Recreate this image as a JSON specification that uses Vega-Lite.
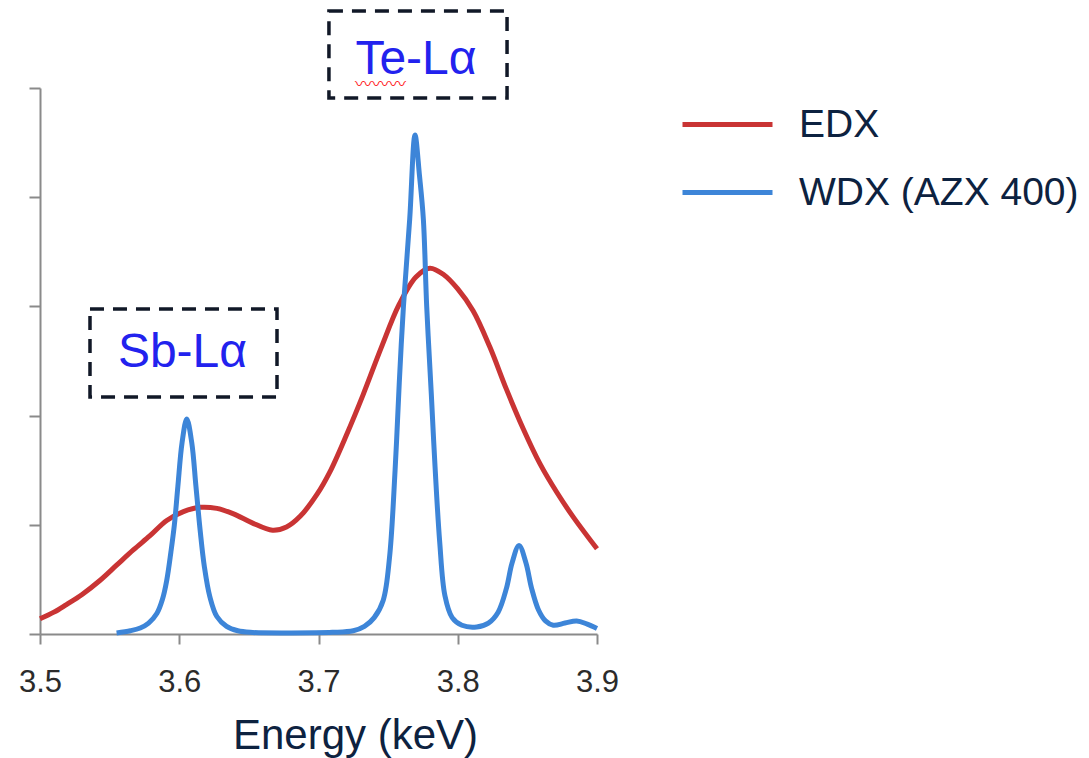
{
  "$schema": "https://vega.github.io/schema/vega-lite/v6.json",
  "width": 557,
  "height": 546,
  "autosize": {"type": "none"},
  "padding": {"left": 40, "top": 88, "right": 492, "bottom": 124},
  "background": "white",
  "config": {"view": {"stroke": null}, "axis": {"grid": false}},
  "datasets": {
    "spectra": [
      {"series": "EDX", "energy": 3.500, "value": 0.14},
      {"series": "EDX", "energy": 3.510, "value": 0.20},
      {"series": "EDX", "energy": 3.519, "value": 0.27},
      {"series": "EDX", "energy": 3.530, "value": 0.36},
      {"series": "EDX", "energy": 3.543, "value": 0.49},
      {"series": "EDX", "energy": 3.555, "value": 0.63},
      {"series": "EDX", "energy": 3.567, "value": 0.77},
      {"series": "EDX", "energy": 3.579, "value": 0.90},
      {"series": "EDX", "energy": 3.591, "value": 1.04},
      {"series": "EDX", "energy": 3.603, "value": 1.12},
      {"series": "EDX", "energy": 3.615, "value": 1.16},
      {"series": "EDX", "energy": 3.627, "value": 1.15},
      {"series": "EDX", "energy": 3.639, "value": 1.10},
      {"series": "EDX", "energy": 3.652, "value": 1.02},
      {"series": "EDX", "energy": 3.667, "value": 0.95},
      {"series": "EDX", "energy": 3.677, "value": 0.98},
      {"series": "EDX", "energy": 3.687, "value": 1.08},
      {"series": "EDX", "energy": 3.699, "value": 1.28},
      {"series": "EDX", "energy": 3.708, "value": 1.48},
      {"series": "EDX", "energy": 3.720, "value": 1.82},
      {"series": "EDX", "energy": 3.732, "value": 2.19},
      {"series": "EDX", "energy": 3.745, "value": 2.62},
      {"series": "EDX", "energy": 3.758, "value": 3.02},
      {"series": "EDX", "energy": 3.770, "value": 3.27},
      {"series": "EDX", "energy": 3.780, "value": 3.35},
      {"series": "EDX", "energy": 3.790, "value": 3.29},
      {"series": "EDX", "energy": 3.800, "value": 3.16},
      {"series": "EDX", "energy": 3.811, "value": 2.96},
      {"series": "EDX", "energy": 3.823, "value": 2.63},
      {"series": "EDX", "energy": 3.835, "value": 2.24},
      {"series": "EDX", "energy": 3.847, "value": 1.88},
      {"series": "EDX", "energy": 3.859, "value": 1.56},
      {"series": "EDX", "energy": 3.871, "value": 1.30},
      {"series": "EDX", "energy": 3.883, "value": 1.07},
      {"series": "EDX", "energy": 3.900, "value": 0.78},
      {"series": "WDX (AZX 400)", "energy": 3.555, "value": 0.01},
      {"series": "WDX (AZX 400)", "energy": 3.565, "value": 0.03},
      {"series": "WDX (AZX 400)", "energy": 3.572, "value": 0.055},
      {"series": "WDX (AZX 400)", "energy": 3.578, "value": 0.10},
      {"series": "WDX (AZX 400)", "energy": 3.584, "value": 0.19},
      {"series": "WDX (AZX 400)", "energy": 3.588, "value": 0.32},
      {"series": "WDX (AZX 400)", "energy": 3.591, "value": 0.49},
      {"series": "WDX (AZX 400)", "energy": 3.594, "value": 0.75},
      {"series": "WDX (AZX 400)", "energy": 3.5965, "value": 1.00},
      {"series": "WDX (AZX 400)", "energy": 3.599, "value": 1.35},
      {"series": "WDX (AZX 400)", "energy": 3.602, "value": 1.75},
      {"series": "WDX (AZX 400)", "energy": 3.6054, "value": 1.97},
      {"series": "WDX (AZX 400)", "energy": 3.609, "value": 1.75},
      {"series": "WDX (AZX 400)", "energy": 3.612, "value": 1.35},
      {"series": "WDX (AZX 400)", "energy": 3.615, "value": 0.95},
      {"series": "WDX (AZX 400)", "energy": 3.618, "value": 0.62},
      {"series": "WDX (AZX 400)", "energy": 3.622, "value": 0.34},
      {"series": "WDX (AZX 400)", "energy": 3.627, "value": 0.16},
      {"series": "WDX (AZX 400)", "energy": 3.634, "value": 0.07},
      {"series": "WDX (AZX 400)", "energy": 3.642, "value": 0.03},
      {"series": "WDX (AZX 400)", "energy": 3.651, "value": 0.015},
      {"series": "WDX (AZX 400)", "energy": 3.680, "value": 0.01},
      {"series": "WDX (AZX 400)", "energy": 3.710, "value": 0.015},
      {"series": "WDX (AZX 400)", "energy": 3.725, "value": 0.03},
      {"series": "WDX (AZX 400)", "energy": 3.733, "value": 0.07},
      {"series": "WDX (AZX 400)", "energy": 3.740, "value": 0.15},
      {"series": "WDX (AZX 400)", "energy": 3.7465, "value": 0.31},
      {"series": "WDX (AZX 400)", "energy": 3.751, "value": 0.70},
      {"series": "WDX (AZX 400)", "energy": 3.755, "value": 1.50},
      {"series": "WDX (AZX 400)", "energy": 3.758, "value": 2.30},
      {"series": "WDX (AZX 400)", "energy": 3.761, "value": 3.00},
      {"series": "WDX (AZX 400)", "energy": 3.7655, "value": 3.80},
      {"series": "WDX (AZX 400)", "energy": 3.7693, "value": 4.57},
      {"series": "WDX (AZX 400)", "energy": 3.7725, "value": 4.20},
      {"series": "WDX (AZX 400)", "energy": 3.7753, "value": 3.80},
      {"series": "WDX (AZX 400)", "energy": 3.7777, "value": 3.00},
      {"series": "WDX (AZX 400)", "energy": 3.781, "value": 2.20},
      {"series": "WDX (AZX 400)", "energy": 3.7837, "value": 1.53},
      {"series": "WDX (AZX 400)", "energy": 3.787, "value": 0.85},
      {"series": "WDX (AZX 400)", "energy": 3.7908, "value": 0.35},
      {"series": "WDX (AZX 400)", "energy": 3.796, "value": 0.15},
      {"series": "WDX (AZX 400)", "energy": 3.803, "value": 0.08},
      {"series": "WDX (AZX 400)", "energy": 3.8136, "value": 0.065},
      {"series": "WDX (AZX 400)", "energy": 3.822, "value": 0.10},
      {"series": "WDX (AZX 400)", "energy": 3.829, "value": 0.20},
      {"series": "WDX (AZX 400)", "energy": 3.835, "value": 0.42},
      {"series": "WDX (AZX 400)", "energy": 3.839, "value": 0.65},
      {"series": "WDX (AZX 400)", "energy": 3.844, "value": 0.81},
      {"series": "WDX (AZX 400)", "energy": 3.849, "value": 0.65},
      {"series": "WDX (AZX 400)", "energy": 3.853, "value": 0.42},
      {"series": "WDX (AZX 400)", "energy": 3.858, "value": 0.22},
      {"series": "WDX (AZX 400)", "energy": 3.863, "value": 0.12},
      {"series": "WDX (AZX 400)", "energy": 3.8686, "value": 0.08},
      {"series": "WDX (AZX 400)", "energy": 3.877, "value": 0.10},
      {"series": "WDX (AZX 400)", "energy": 3.8854, "value": 0.12},
      {"series": "WDX (AZX 400)", "energy": 3.893, "value": 0.09},
      {"series": "WDX (AZX 400)", "energy": 3.900, "value": 0.05}
    ],
    "boxes": [
      {"label": "Sb-Lα", "energy": 3.5359, "energy2": 3.6702, "value": 2.170, "value2": 2.976},
      {"label": "Te-Lα", "energy": 3.7075, "energy2": 3.8354, "value": 4.908, "value2": 5.705}
    ],
    "labels": [
      {"label": "Sb-Lα", "energy": 3.6023, "value": 2.448},
      {"label": "Te-Lα", "energy": 3.770, "value": 5.128}
    ],
    "squiggle": [
      {"mark": "〰〰〰", "energy": 3.7445, "value": 5.03}
    ]
  },
  "layer": [
    {
      "data": {"name": "spectra"},
      "mark": {"type": "line", "strokeWidth": 5, "interpolate": "catmull-rom"},
      "encoding": {
        "x": {
          "field": "energy", "type": "quantitative",
          "scale": {"domain": [3.5, 3.9], "nice": false, "zero": false},
          "axis": {
            "title": "Energy (keV)",
            "values": [3.5, 3.6, 3.7, 3.8, 3.9],
            "format": ".1f",
            "labelFont": "Liberation Sans", "labelFontSize": 31, "labelColor": "#2b2b2b",
            "labelBaseline": "alphabetic", "labelPadding": 47,
            "labelFlush": false, "labelOverlap": false, "labelBound": false,
            "tickSize": 10, "tickColor": "#8a8a8a", "tickWidth": 2,
            "domainColor": "#8a8a8a", "domainWidth": 2,
            "titleFont": "Liberation Sans", "titleFontSize": 42, "titleFontWeight": "normal",
            "titleColor": "#0d2240", "titleX": 315, "titleY": 114, "titleBaseline": "alphabetic"
          }
        },
        "y": {
          "field": "value", "type": "quantitative",
          "scale": {"domain": [0, 5], "nice": false, "zero": false},
          "axis": {
            "title": null, "values": [0, 1, 2, 3, 4, 5], "labels": false,
            "tickSize": 11, "tickColor": "#8a8a8a", "tickWidth": 2,
            "domainColor": "#8a8a8a", "domainWidth": 2
          }
        },
        "color": {
          "field": "series", "type": "nominal",
          "scale": {"domain": ["EDX", "WDX (AZX 400)"], "range": ["#c93434", "#3d85d8"]},
          "legend": {
            "orient": "none", "legendX": 640, "legendY": -11, "title": null,
            "symbolType": "stroke", "symbolSize": 8100, "symbolStrokeWidth": 5,
            "labelFont": "Liberation Sans", "labelFontSize": 39, "labelColor": "#0d2240",
            "labelOffset": 24, "labelLimit": 0, "rowPadding": -22
          }
        }
      }
    },
    {
      "data": {"name": "boxes"},
      "mark": {"type": "rect", "fill": "white", "fillOpacity": 0, "stroke": "#111827", "strokeWidth": 3.5, "strokeDash": [14, 9]},
      "encoding": {
        "x": {"field": "energy", "type": "quantitative"},
        "x2": {"field": "energy2"},
        "y": {"field": "value", "type": "quantitative"},
        "y2": {"field": "value2"}
      }
    },
    {
      "data": {"name": "labels"},
      "mark": {"type": "text", "font": "Liberation Sans", "fontSize": 48, "color": "#2222ee", "baseline": "alphabetic", "align": "center"},
      "encoding": {
        "x": {"field": "energy", "type": "quantitative"},
        "y": {"field": "value", "type": "quantitative"},
        "text": {"field": "label"}
      }
    },
    {
      "data": {"name": "squiggle"},
      "mark": {"type": "text", "font": "Noto Sans CJK JP", "fontSize": 17, "color": "#ff2020", "baseline": "middle", "align": "center"},
      "encoding": {
        "x": {"field": "energy", "type": "quantitative"},
        "y": {"field": "value", "type": "quantitative"},
        "text": {"field": "mark"}
      }
    }
  ]
}
